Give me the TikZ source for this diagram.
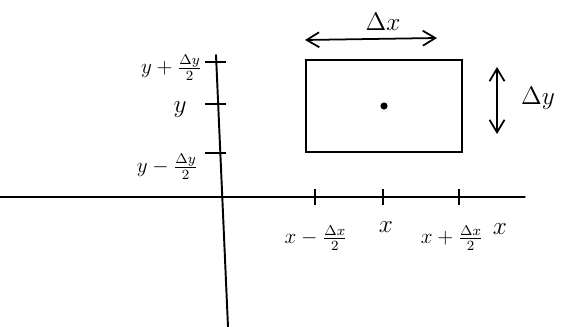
\documentclass[tikz,border=0pt]{standalone}
\usetikzlibrary{arrows.meta, positioning}

\begin{document}
\begin{tikzpicture}[
    x = 0.02cm, y = -0.02cm,
    > = {Straight Barb[length=2.5mm, width=3mm]},
    axis/.style  = {line width=1.1pt, line cap=round},
    tick/.style  = {line width=1.2pt},
    cell/.style  = {draw, line width=1.3pt, minimum width=3.12cm, minimum height=1.84cm, inner sep=0pt},
    span/.style  = {<->, line width=1pt},
    lab/.style   = {font=\Large, inner sep=1pt},
    flab/.style  = {font=\large, inner sep=1pt},
]
\useasboundingbox (0,0) rectangle (570,327);

% --------------------------------------------- axes ----------------------------------------------
\coordinate (xl) at (0,197);
\coordinate (xr) at (525,197);
\coordinate (yt) at (216,55);
\coordinate (yb) at (228,327);
\draw[axis, line width=0.8pt] (xl) -- (xr);
\draw[axis] (yt) -- (yb);

% --------------------------------------------- ticks ---------------------------------------------
\foreach \px/\nm in {315/xm, 383/xc, 459/xp}
    \draw[tick] (\px,189) coordinate (\nm) -- (\px,205);
\foreach \py/\nm in {62/yp, 104/yc, 153/ym}
    \draw[tick] (205,\py) coordinate (\nm) -- (226,\py);

% -------------------------------------------- labels ---------------------------------------------
\node[flab, anchor=east] (lyp) at (204,68)  {$y+\frac{\Delta y}{2}$};
\node[lab]               (lyc) at (180,110) {$y$};
\node[flab, anchor=east] (lym) at (200,167) {$y-\frac{\Delta y}{2}$};
\node[flab] (lxm) at (316,238) {$x-\frac{\Delta x}{2}$};
\node[lab]  (lxc) at (386,227) {$x$};
\node[flab] (lxp) at (452,238) {$x+\frac{\Delta x}{2}$};
\node[lab]  (lx)  at (500,229) {$x$};

% --------------------------------------------- cell ----------------------------------------------
\node[cell] (box) at (384,106) {};
\fill[draw, line width=0.8pt] (box.center) circle (1.6pt);

% --------------------------------------------- spans ---------------------------------------------
\coordinate (dxl) at (305,40);
\coordinate (dxr) at (437,38);
\draw[span] (dxl) -- (dxr);
\node[lab] (ldx) at (383,22) {$\Delta x$};

\coordinate (dyt) at (497,67);
\coordinate (dyb) at (497,134);
\draw[span] (dyt) -- (dyb);
\node[lab] (ldy) at (538,98) {$\Delta y$};

\end{tikzpicture}
\end{document}
